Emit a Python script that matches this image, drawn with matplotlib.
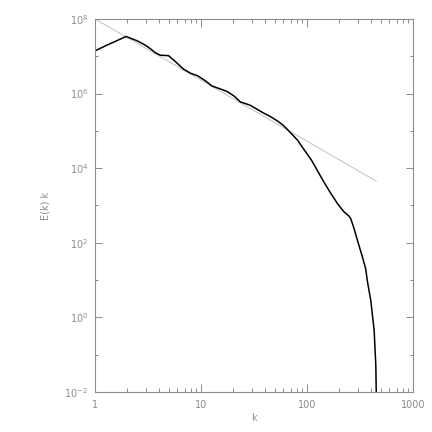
import matplotlib
matplotlib.use("Agg")
import matplotlib.pyplot as plt
from matplotlib.ticker import LogLocator, FixedLocator, NullFormatter

# spectrum E(k) k
k_vals = [1.0, 1.3, 1.6, 1.96, 2.5, 2.97, 3.31, 3.7, 4.12, 4.94, 5.8, 6.85,
          8.0, 9.3, 11.0, 12.7, 14.7, 17.5, 20.4, 23.5, 29.0, 39.0, 44.8, 52.4,
          59.8, 69.0, 81.0, 92.0, 110.0, 123.0, 142.0, 167.0, 194.0, 223.0,
          249.0, 259.0, 278.0, 299.0, 333.0, 358.0, 372.0, 400.0, 430.0,
          446.0, 450.0]
e_vals = [1.4e7, 2.0e7, 2.6e7, 3.4e7, 2.6e7, 2.0e7, 1.62e7, 1.25e7, 1.07e7,
          1.04e7, 7.0e6, 4.5e6, 3.5e6, 3.0e6, 2.2e6, 1.6e6, 1.38e6, 1.15e6,
          8.7e5, 6.0e5, 4.9e5, 3.0e5, 2.45e5, 1.86e5, 1.41e5, 9.3e4, 5.75e4,
          3.4e4, 1.66e4, 9.5e3, 4.6e3, 2.15e3, 1.12e3, 6.8e2, 5.2e2, 4.4e2,
          2.4e2, 1.17e2, 4.2e1, 2.0e1, 9.0, 2.8, 0.45, 0.05, 0.01]

# reference slope line (k^-5/3)
ref_k = [1.0, 450.0]
ref_e = [1.0e8, 4.5e3]

gray = "#8c8c8c"

fig = plt.figure(figsize=(4.32, 4.32), dpi=100)
ax = fig.add_axes([95 / 432, 40 / 432, 318 / 432, 373 / 432])

ax.plot(ref_k, ref_e, color="#c8c8c8", lw=0.8)
ax.plot(k_vals, e_vals, color="black", lw=1.1)

ax.set_xscale("log")
ax.set_yscale("log")
ax.set_xlim(1, 1000)
ax.set_ylim(1e-2, 1e8)

ax.xaxis.set_major_locator(FixedLocator([1, 10, 100, 1000]))
ax.xaxis.set_minor_locator(LogLocator(base=10, subs=range(2, 10)))
ax.xaxis.set_minor_formatter(NullFormatter())
ax.set_xticklabels(["1", "10", "100", "1000"])

ax.yaxis.set_major_locator(FixedLocator([1e-2, 1e0, 1e2, 1e4, 1e6, 1e8]))
ax.yaxis.set_minor_locator(FixedLocator([1e-1, 1e1, 1e3, 1e5, 1e7]))
ax.yaxis.set_minor_formatter(NullFormatter())
ax.set_yticklabels([r"10$^{-2}$", r"10$^{0}$", r"10$^{2}$", r"10$^{4}$",
                    r"10$^{6}$", r"10$^{8}$"])

for s in ax.spines.values():
    s.set_color(gray)
    s.set_linewidth(0.8)

ax.tick_params(which="both", direction="in", top=True, right=True,
               colors=gray, labelcolor=gray, labelsize=7, width=0.7)
ax.tick_params(axis="x", which="major", length=6, pad=6)
ax.tick_params(axis="x", which="minor", length=3.2)
ax.tick_params(axis="y", which="major", length=5, pad=5)
ax.tick_params(axis="y", which="minor", length=2.5)

ax.set_xlabel("k", color=gray, fontsize=7, labelpad=2)
ax.set_ylabel("E(k) k", color=gray, fontsize=7, labelpad=10)

fig.savefig("out.png", dpi=100)
